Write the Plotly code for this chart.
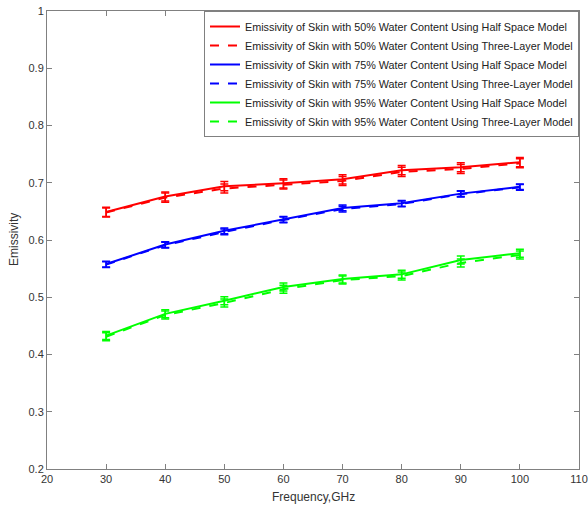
import plotly.graph_objects as go

freq = [30, 40, 50, 60, 70, 80, 90, 100]

half_50 = [0.649, 0.676, 0.694, 0.699, 0.706, 0.722, 0.727, 0.736]
three_50 = [0.648, 0.674, 0.690, 0.697, 0.703, 0.719, 0.724, 0.734]
err_50 = [0.008, 0.008, 0.008, 0.008, 0.008, 0.008, 0.008, 0.008]

half_75 = [0.558, 0.592, 0.616, 0.636, 0.656, 0.664, 0.681, 0.693]
three_75 = [0.557, 0.591, 0.614, 0.635, 0.654, 0.663, 0.680, 0.692]
err_75 = [0.005, 0.005, 0.005, 0.005, 0.005, 0.005, 0.005, 0.005]

half_95 = [0.433, 0.471, 0.494, 0.518, 0.532, 0.540, 0.565, 0.577]
three_95 = [0.431, 0.469, 0.490, 0.514, 0.530, 0.537, 0.560, 0.574]
err_95 = [0.007, 0.007, 0.007, 0.007, 0.007, 0.007, 0.007, 0.007]

names = [
    "Emissivity of Skin with 50% Water Content Using Half Space Model",
    "Emissivity of Skin with 50% Water Content Using Three-Layer Model",
    "Emissivity of Skin with 75% Water Content Using Half Space Model",
    "Emissivity of Skin with 75% Water Content Using Three-Layer Model",
    "Emissivity of Skin with 95% Water Content Using Half Space Model",
    "Emissivity of Skin with 95% Water Content Using Three-Layer Model",
]

series = [
    (half_50, err_50, "#ff0000", "solid"),
    (three_50, err_50, "#ff0000", "dash"),
    (half_75, err_75, "#0000ff", "solid"),
    (three_75, err_75, "#0000ff", "dash"),
    (half_95, err_95, "#00ff00", "solid"),
    (three_95, err_95, "#00ff00", "dash"),
]

fig = go.Figure()
for name, (vals, err, color, dash) in zip(names, series):
    fig.add_trace(go.Scatter(
        x=freq, y=vals, name=name, mode="lines",
        line=dict(color=color, width=2, dash=dash),
        error_y=dict(type="data", array=err, visible=True, color=color,
                     thickness=1.5, width=4),
    ))

FONT = "Liberation Sans, Arial"
axis_common = dict(
    showline=True, linecolor="#808080", linewidth=1, mirror="ticks",
    ticks="inside", ticklen=5, tickcolor="#808080", showgrid=False,
    zeroline=False, automargin=False,
    tickfont=dict(family=FONT, size=11, color="#333333"),
)

fig.update_layout(
    width=588, height=505,
    margin=dict(l=47, r=9, t=11, b=36),
    paper_bgcolor="white", plot_bgcolor="white",
    font=dict(family=FONT, size=11, color="#333333"),
    xaxis=dict(range=[20, 110], dtick=10, **axis_common),
    yaxis=dict(range=[0.2, 1], dtick=0.1, **axis_common),
    legend=dict(x=1.0, y=1, xanchor="right", yanchor="top", bgcolor="white",
                bordercolor="#808080", borderwidth=1,
                font=dict(family=FONT, size=10.8, color="#222222"),
                tracegroupgap=0, itemwidth=30),
    showlegend=True,
    annotations=[
        dict(text="Frequency,GHz", xref="paper", yref="paper", x=0.5, y=0,
             yshift=-28, xanchor="center", yanchor="middle", showarrow=False,
             font=dict(family=FONT, size=12, color="#333333")),
        dict(text="Emissivity", xref="paper", yref="paper", x=0, y=0.5,
             xshift=-33, xanchor="center", yanchor="middle", showarrow=False,
             textangle=-90, font=dict(family=FONT, size=12, color="#333333")),
    ],
)

fig.write_html(
    "out.html",
    config={"displayModeBar": False},
    post_script="document.body.style.margin='0';document.body.style.overflow='hidden';",
)
